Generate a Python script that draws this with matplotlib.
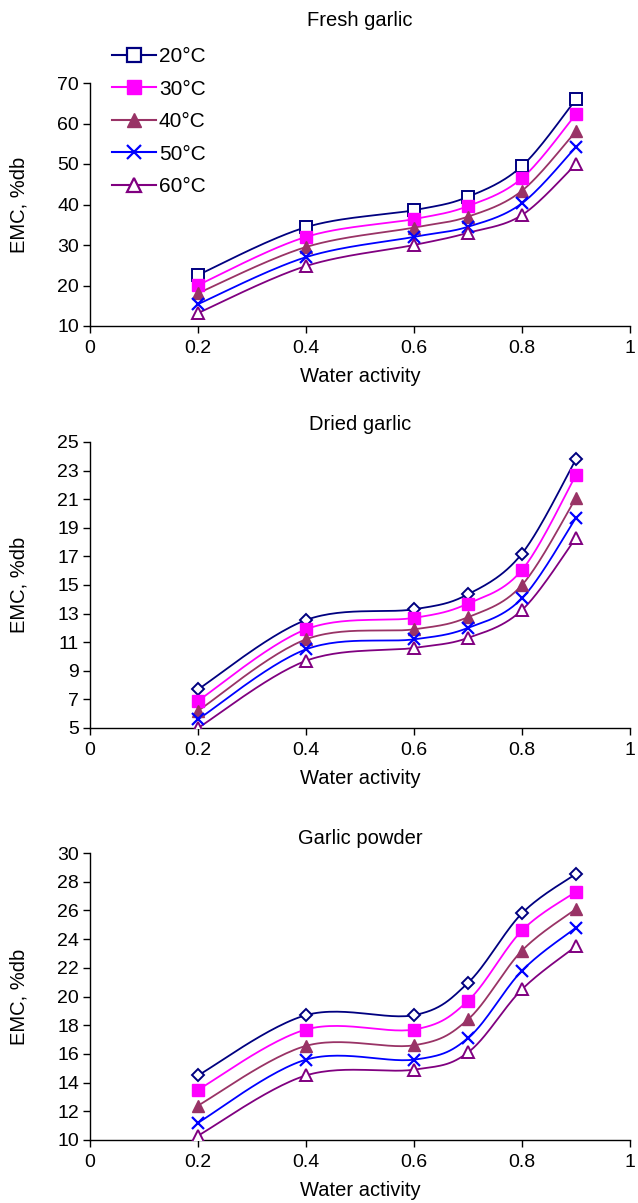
import matplotlib
matplotlib.use("Agg")
import matplotlib.pyplot as plt
import numpy as np

plt.rcParams['font.family'] = ['Liberation Sans', 'DejaVu Sans']

aw = [0.2, 0.4, 0.6, 0.7, 0.8, 0.9]
temps = ['20°C', '30°C', '40°C', '50°C', '60°C']

# fresh garlic EMC, %db
fresh_20 = [22.6, 34.4, 38.6, 41.9, 49.5, 66.0]
fresh_30 = [20.1, 32.0, 36.4, 39.6, 46.5, 62.3]
fresh_40 = [18.1, 29.5, 34.3, 37.0, 43.4, 58.1]
fresh_50 = [15.4, 27.0, 32.0, 34.5, 40.3, 54.2]
fresh_60 = [13.2, 24.8, 30.0, 33.0, 37.4, 50.0]

# dried garlic
dried_20 = [7.7, 12.55, 13.3, 14.35, 17.2, 23.8]
dried_30 = [6.9, 11.9, 12.7, 13.7, 16.05, 22.7]
dried_40 = [6.2, 11.2, 11.9, 12.75, 15.0, 21.1]
dried_50 = [5.6, 10.5, 11.2, 12.0, 14.07, 19.7]
dried_60 = [5.0, 9.7, 10.6, 11.3, 13.25, 18.3]

# garlic powder
powder_20 = [14.5, 18.7, 18.7, 20.95, 25.8, 28.55]
powder_30 = [13.5, 17.7, 17.7, 19.7, 24.6, 27.3]
powder_40 = [12.4, 16.56, 16.6, 18.4, 23.2, 26.1]
powder_50 = [11.2, 15.6, 15.6, 17.1, 21.8, 24.8]
powder_60 = [10.3, 14.5, 14.9, 16.1, 20.5, 23.5]

colors = ['#000080', '#FF00FF', '#993366', '#0000FF', '#800080']


def smooth(x, y, n=30):
    # catmull-rom curve through the points (like excel smoothed line)
    x = np.asarray(x, float); y = np.asarray(y, float)
    px = np.concatenate([[x[0]], x, [x[-1]]])
    py = np.concatenate([[y[0]], y, [y[-1]]])
    xs, ys = [], []
    t = np.linspace(0, 1, n)
    for i in range(1, len(px) - 2):
        p0, p1, p2, p3 = i - 1, i, i + 1, i + 2
        for arr, out in ((px, xs), (py, ys)):
            a0, a1, a2, a3 = arr[p0], arr[p1], arr[p2], arr[p3]
            m1 = (a2 - a0) / 2.0
            m2 = (a3 - a1) / 2.0
            h00 = 2*t**3 - 3*t**2 + 1
            h10 = t**3 - 2*t**2 + t
            h01 = -2*t**3 + 3*t**2
            h11 = t**3 - t**2
            out.append(h00*a1 + h10*m1 + h01*a2 + h11*m2)
    return np.concatenate(xs), np.concatenate(ys)


fig = plt.figure(figsize=(6.38, 12.03), dpi=100)
H = 1203.0
W = 638.0
FS = 14.5

panels = [
    ('Fresh garlic', [fresh_20, fresh_30, fresh_40, fresh_50, fresh_60], (10, 70, 10), 83, 326, 's', 20),
    ('Dried garlic', [dried_20, dried_30, dried_40, dried_50, dried_60], (5, 25, 2), 442, 728, 'D', 425),
    ('Garlic powder', [powder_20, powder_30, powder_40, powder_50, powder_60], (10, 30, 2), 853, 1140, 'D', 838),
]

for k, (title, series, (ylo, yhi, ystep), top, bot, first_marker, ty) in enumerate(panels):
    ax = fig.add_axes([90 / W, (H - bot) / H, 540 / W, (bot - top) / H])
    markers = [first_marker, 's', '^', 'x', '^']
    for j, ys in enumerate(series):
        c = colors[j]
        sx, sy = smooth(aw, ys)
        ax.plot(sx, sy, color=c, lw=1.3, zorder=2)
        m = markers[j]
        ms = 6 if m == 'D' else 8
        if j in (0, 4):
            ax.plot(aw, ys, ls='none', marker=m, ms=ms, mfc='white', mec=c, mew=1.4, zorder=3)
        elif j == 3:
            ax.plot(aw, ys, ls='none', marker=m, ms=9, mec=c, mew=1.6, zorder=3)
        else:
            ax.plot(aw, ys, ls='none', marker=m, ms=8, mfc=c, mec=c, zorder=3)
        if k == 0:
            kw = dict(marker=m, ms=10, color=c, lw=1.5)
            if j in (0, 4):
                kw.update(mfc='white', mec=c, mew=1.6)
            elif j == 3:
                kw.update(mew=1.6)
            ax.plot([], [], label=temps[j], **kw)
    ax.set_xlim(0, 1)
    ax.set_ylim(ylo, yhi)
    ax.set_xticks([0, 0.2, 0.4, 0.6, 0.8, 1])
    ax.set_xticklabels(['0', '0.2', '0.4', '0.6', '0.8', '1'])
    ax.set_yticks(np.arange(ylo, yhi + 0.1, ystep))
    for s in ('top', 'right'):
        ax.spines[s].set_visible(False)
    for s in ('left', 'bottom'):
        ax.spines[s].set_linewidth(1.0)
    ax.tick_params(direction='out', length=5, width=1.0, labelsize=14, pad=3)
    ax.tick_params(axis='x', pad=5)
    ax.set_xlabel('Water activity', fontsize=FS, labelpad=7)
    ax.set_ylabel('EMC, %db', fontsize=FS)
    ax.yaxis.set_label_coords((29 - 90) / 540, 0.5)
    fig.text(360 / W, 1 - ty / H, title, ha='center', va='center', fontsize=FS)
    if k == 0:
        ax.legend(loc='upper left', bbox_to_anchor=(112 / W, 1 - 47 / H), bbox_transform=fig.transFigure,
                  frameon=False, fontsize=15, handlelength=2.1, handletextpad=0.15,
                  labelspacing=0.65, borderpad=0, borderaxespad=0)

fig.savefig('out.png', dpi=100)
